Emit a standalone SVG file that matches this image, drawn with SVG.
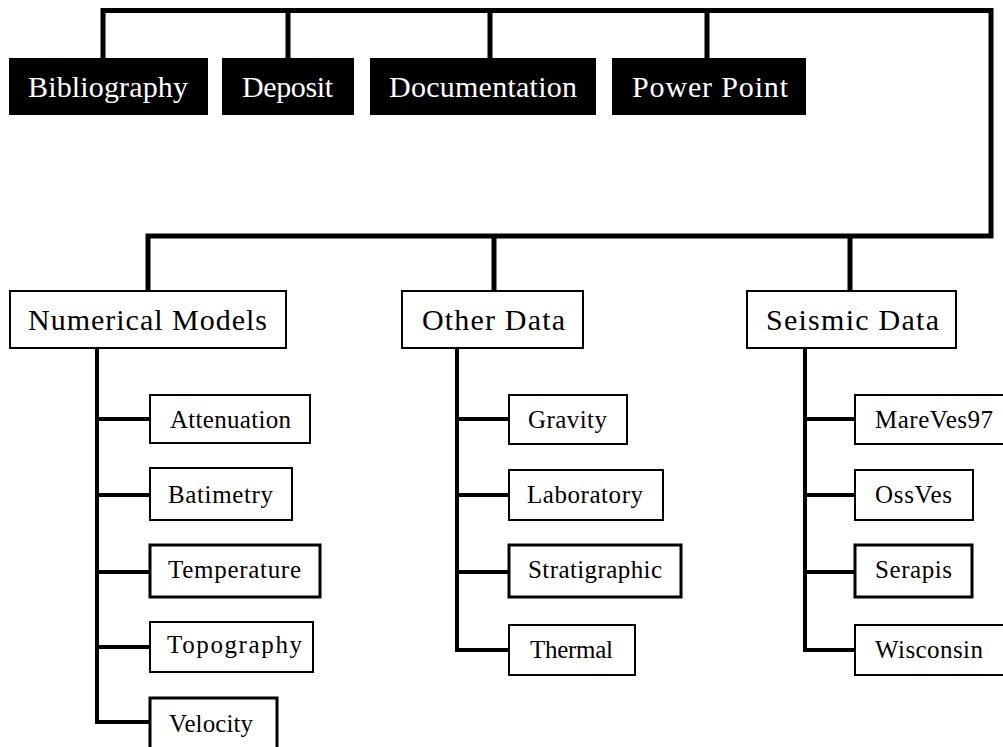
<svg xmlns="http://www.w3.org/2000/svg" width="1003" height="747" viewBox="0 0 1003 747">
<style>
.dark rect{fill:#000;stroke:#000;stroke-width:2}
.dark text{fill:#fff}
.light rect{fill:#fff;stroke:#000;stroke-width:2}
.light.thick rect{stroke-width:3}
text{font-family:"Liberation Serif","Times New Roman",serif;fill:#000}
.big{font-size:30px}
.small{font-size:25px}
.conn path{fill:none;stroke:#000;stroke-linejoin:miter;stroke-linecap:butt}
.c1{stroke-width:5}
.c2{stroke-width:4}
</style>
<rect width="1003" height="747" fill="#fff"/>
<g class="conn" id="connectors">
<path class="c1" d="M103,59 V10.5 H991 V236 H148 V291"/>
<path class="c1" d="M288,10.5 V59 M490,10.5 V59 M707,10.5 V59"/>
<path class="c1" d="M494,236 V291 M850,236 V291"/>
<path class="c2" d="M97,348 V722 H150 M97,419 H150 M97,495 H150 M97,572 H150 M97,647 H150"/>
<path class="c2" d="M457,348 V650 H509 M457,419 H509 M457,495 H509 M457,572 H509"/>
<path class="c2" d="M805,348 V650 H855 M805,419 H855 M805,495 H855 M805,572 H855"/>
</g>
<g id="bibliography" class="dark"><rect x="10" y="59" width="197" height="55"/><text class="big" x="28" y="97" textLength="160" lengthAdjust="spacing">Bibliography</text></g>
<g id="deposit" class="dark"><rect x="223" y="59" width="130" height="55"/><text class="big" x="242" y="97" textLength="91" lengthAdjust="spacing">Deposit</text></g>
<g id="documentation" class="dark"><rect x="371" y="59" width="224" height="55"/><text class="big" x="389" y="97" textLength="188" lengthAdjust="spacing">Documentation</text></g>
<g id="powerpoint" class="dark"><rect x="613" y="59" width="192" height="55"/><text class="big" x="632" y="97" textLength="156" lengthAdjust="spacing">Power Point</text></g>
<g id="numerical" class="light"><rect x="10" y="291" width="276" height="57"/><text class="big" x="28" y="330" textLength="239" lengthAdjust="spacing">Numerical Models</text></g>
<g id="otherdata" class="light"><rect x="402" y="291" width="181" height="57"/><text class="big" x="422" y="330" textLength="143" lengthAdjust="spacing">Other Data</text></g>
<g id="seismic" class="light"><rect x="747" y="291" width="209" height="57"/><text class="big" x="766" y="330" textLength="173" lengthAdjust="spacing">Seismic Data</text></g>
<g id="attenuation" class="light"><rect x="150" y="395" width="160" height="48"/><text class="small" x="170" y="428" textLength="121" lengthAdjust="spacing">Attenuation</text></g>
<g id="batimetry" class="light"><rect x="150" y="468" width="142" height="52"/><text class="small" x="168" y="503" textLength="105" lengthAdjust="spacing">Batimetry</text></g>
<g id="temperature" class="light thick"><rect x="150" y="545" width="170" height="52"/><text class="small" x="168" y="578" textLength="133" lengthAdjust="spacing">Temperature</text></g>
<g id="topography" class="light"><rect x="150" y="622" width="163" height="50"/><text class="small" x="167" y="653" textLength="135" lengthAdjust="spacing">Topography</text></g>
<g id="velocity" class="light thick"><rect x="150" y="698" width="127" height="60"/><text class="small" x="169" y="732" textLength="84" lengthAdjust="spacing">Velocity</text></g>
<g id="gravity" class="light"><rect x="509" y="395" width="118" height="49"/><text class="small" x="528" y="428" textLength="79" lengthAdjust="spacing">Gravity</text></g>
<g id="laboratory" class="light"><rect x="509" y="470" width="154" height="50"/><text class="small" x="527" y="503" textLength="116" lengthAdjust="spacing">Laboratory</text></g>
<g id="stratigraphic" class="light thick"><rect x="509" y="545" width="172" height="52"/><text class="small" x="528" y="578" textLength="134" lengthAdjust="spacing">Stratigraphic</text></g>
<g id="thermal" class="light"><rect x="509" y="625" width="126" height="50"/><text class="small" x="530" y="658" textLength="83" lengthAdjust="spacing">Thermal</text></g>
<g id="mareves97" class="light"><rect x="855" y="395" width="160" height="49"/><text class="small" x="875" y="428" textLength="118" lengthAdjust="spacing">MareVes97</text></g>
<g id="ossves" class="light"><rect x="855" y="470" width="118" height="50"/><text class="small" x="875" y="503" textLength="77" lengthAdjust="spacing">OssVes</text></g>
<g id="serapis" class="light thick"><rect x="855" y="545" width="117" height="52"/><text class="small" x="875" y="578" textLength="77" lengthAdjust="spacing">Serapis</text></g>
<g id="wisconsin" class="light"><rect x="855" y="625" width="160" height="50"/><text class="small" x="875" y="658" textLength="108" lengthAdjust="spacing">Wisconsin</text></g>
</svg>
